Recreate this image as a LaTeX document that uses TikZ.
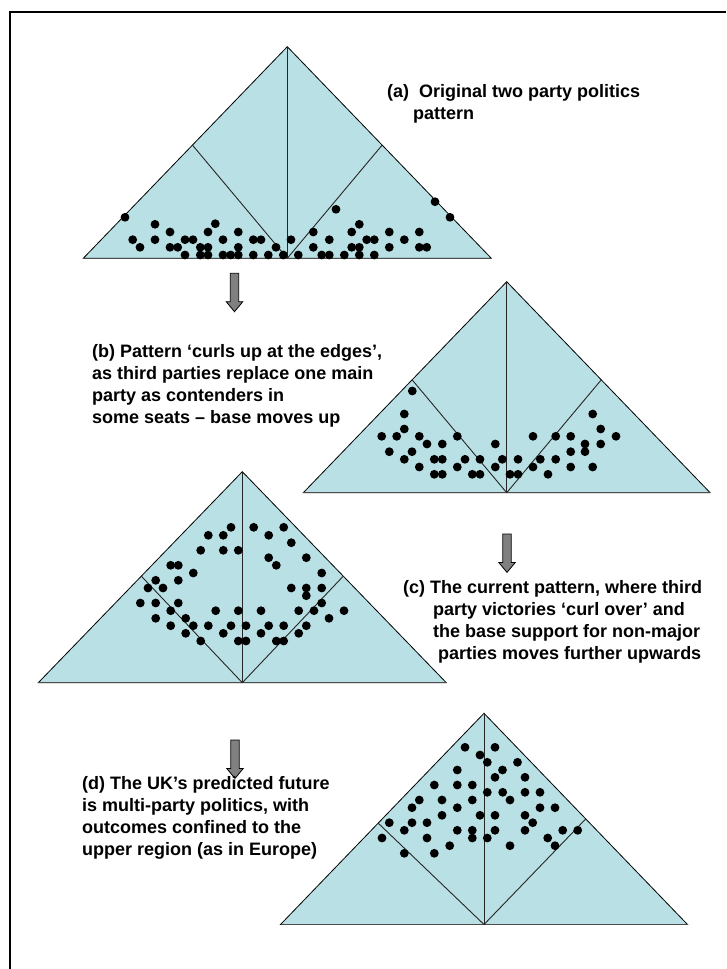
\documentclass[tikz,border=0pt]{standalone}
\usepackage{fontspec}
\setmainfont{Liberation Sans}
\usetikzlibrary{calc}
\definecolor{trifill}{RGB}{185,224,228}
\definecolor{arrowgray}{RGB}{128,128,128}
\tikzset{
  tri/.style={fill=trifill, draw=black, line width=0.8pt, line join=miter},
  baseline/.style={draw=black!70, line width=1.5pt},
  divline/.style={draw=black!85, line width=0.9pt},
  dot/.style={fill=black},
  label/.style={anchor=north west, inner sep=0pt, align=left,
    font=\fontsize{18}{22}\selectfont\bfseries},
  downarrow/.pic={
    \filldraw[fill=arrowgray, draw=black, line width=0.8pt]
      (-4.2,0) -- (4.2,0) -- (4.2,28.4) -- (8.3,28.4) -- (0,38.4)
      -- (-8.3,28.4) -- (-4.2,28.4) -- cycle;
  }
}
\newcommand{\drawtri}[7]{%
  \coordinate (#1top) at (#2,#3);
  \coordinate (#1L) at (#2-#4,#3+#5);
  \coordinate (#1R) at (#2+#4,#3+#5);
  \coordinate (#1C) at (#2,#3+#5);
  \coordinate (#1ml) at ($(#1L)!#6!(#1top)$);
  \coordinate (#1mr) at ($(#1R)!#7!(#1top)$);
  \filldraw[tri] (#1L) -- (#1top) -- (#1R) -- cycle;
  \draw[baseline] (#1L) -- (#1R);
  \draw[divline] (#1C) -- (#1top);
  \draw[divline] (#1C) -- (#1ml);
  \draw[divline] (#1C) -- (#1mr);
}
\begin{document}
\begin{tikzpicture}[x=1pt,y=-1pt]
\useasboundingbox (0,0) rectangle (726,969);
% frame
\draw[line width=2pt] (10,969) -- (10,11.5) -- (726,11.5);

% triangles
\drawtri{a}{287.3}{46.7}{204}{211.6}{0.535}{0.535}
\drawtri{b}{506.7}{281.7}{203.4}{211}{0.535}{0.535}
\drawtri{c}{242.3}{471.7}{204}{211}{0.505}{0.505}
\drawtri{d}{484}{713.3}{203.5}{211.2}{0.48}{0.5}

% dots (a)
\foreach \x/\y in {125/217.3,155/224.3,215.3/223.7,170/232,208/232,238.3/232,
  132.7/239.7,155/239.7,185/239.7,193/239.7,223/239.7,253.3/239.7,261/239.7,
  140/247.3,170/247.3,177.7/247.3,200.3/247.3,208/247.3,238.3/247.3,276/247.3,
  185/255,200.3/255,208/255,223/255,230.7/255,238.3/255,253.3/255,268.3/255,283.3/255,
  291/239.7,298.3/255,
  336/209.3,435/201.7,450/217.3,359.3/224.3,313.3/232,351.7/232,389.3/232,419.3/232,
  329.3/239.7,366.7/239.7,374.3/239.7,404.3/239.7,
  313.3/247.3,351.7/247.3,359.3/247.3,389.3/247.3,419.3/247.3,426.7/247.3,
  321.7/255,329.3/255,344.3/255,359.3/255,374.3/255}
  \fill[dot] (\x,\y) circle[radius=4.4pt];

% dots (b)
\foreach \x/\y in {412.3/391,404.3/414,404.3/429,381.7/436.3,396.7/436.3,419.3/436.3,457.3/436.3,
  427/444,442.3/444,495.3/444,389.3/451.7,412/451.7,
  404.3/459.3,434.3/459.3,442.3/459.3,465/459.3,480/459.3,502.3/459.3,518/459.3,
  419.3/467,457.3/467,495.3/467,
  434.3/474.3,442.3/474.3,472.3/474.3,480/474.3,510/474.3,518/474.3,
  533/436.3,555.7/436.3,570.7/436.3,616/436.3,592.7/414,600.7/429,585/444,600.7/444,
  570.7/451.7,585/451.7,540.3/459.3,555.7/459.3,533/467,570.7/467,592.7/467,548/474.3}
  \fill[dot] (\x,\y) circle[radius=4.4pt];

% dots (c)
\foreach \x/\y in {231/527.3,208.3/535.3,223.3/535.3,200.7/550.3,223.3/550.3,238.3/550.3,
  170.7/565.3,178.3/565.3,193.3/573,155.7/580.3,178.3/580.3,148/588,163/588,
  140.3/603,155.7/603,178.3/603,170.7/610.7,155.7/618.3,185.7/618.3,215.7/610.7,238.3/610.7,
  170.7/625.7,193.3/625.7,208.3/625.7,231/625.7,246/625.7,185.7/633.3,223.3/633.3,
  200.7/641,238.3/641,246/641,
  253.7/527.3,283.7/527.3,268.7/535.3,291.3/542.7,268.7/557.7,276.3/565.3,306.3/557.7,
  321.7/573,291.3/588,306.3/588,321.7/588,306.3/595.7,321.7/603,
  261/610.7,298.7/610.7,314/610.7,344/610.7,329/618.3,
  268.7/625.7,283.7/625.7,306.3/625.7,261/633.3,298.7/633.3,276.3/641,283.7/641}
  \fill[dot] (\x,\y) circle[radius=4.4pt];

% dots (d)
\foreach \x/\y in {465/747.3,495/747.3,480/755,487.3/762.3,517.5/762.3,457.3/770,502.5/770,
  495/777.3,525/777.3,
  434.3/785,457.3/785,472.3/785,487.3/792.3,502.7/792.3,525/792.3,540/792.3,
  419.3/800,442/800,472.3/800,510/800,412/807.7,457.3/807.7,540/807.7,555/807.7,
  442/815.3,480/815.3,495/815.3,525/815.3,532.7/822.7,389.3/822.7,412/822.7,427/822.7,
  404.3/830.3,457.3/830.3,472.3/830.3,495/830.3,525/830.3,562.7/830.3,577.7/830.3,
  382/838,427/838,472.3/838,487.3/838,547.7/838,
  449.7/845.7,510/845.7,555/845.7,404.3/853.3,434.3/853.3}
  \fill[dot] (\x,\y) circle[radius=4.4pt];

% arrows
\pic (arr1) at (234.5,273.3) {downarrow};
\pic (arr2) at (507,534) {downarrow};
\pic (arr3) at (235,740) {downarrow};

% labels
\node[label] (la) at (387,84) {(a)~~Original two party politics\\\hspace*{26pt}pattern};
\node[label] (lb) at (92,344) {(b) Pattern ‘curls up at the edges’,\\as third parties replace one main\\party as contenders in\\some seats – base moves up};
\node[label] (lc) at (403,580) {(c) The current pattern, where third\\\hspace*{30pt}party victories ‘curl over’ and\\\hspace*{30pt}the base support for non-major\\\hspace*{35pt}parties moves further upwards};
\node[label] (ld) at (82,776) {(d) The UK’s predicted future\\is multi-party politics, with\\outcomes confined to the\\upper region (as in Europe)};
\end{tikzpicture}
\end{document}
